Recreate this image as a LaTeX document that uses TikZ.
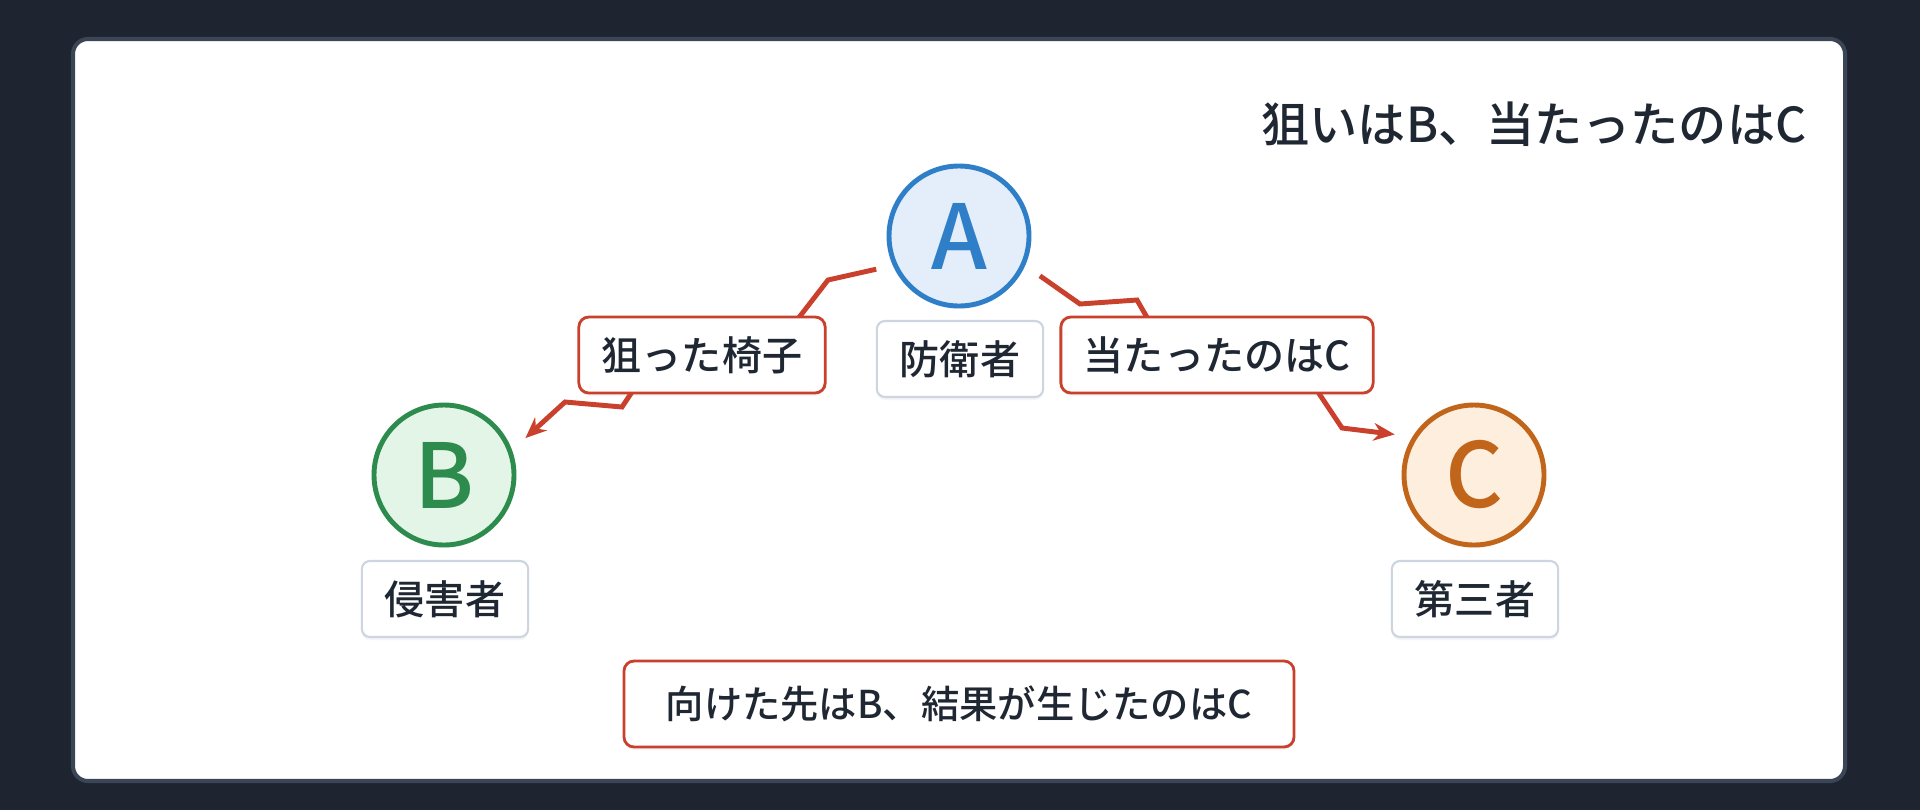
\documentclass[tikz,border=0pt]{standalone}
\usepackage{fontspec}
\setmainfont{Noto Sans CJK JP Medium}
\newfontfamily\letterfont{Noto Sans CJK JP Medium}
\usetikzlibrary{arrows.meta,shadows}
\definecolor{bgdark}{HTML}{1E2530}
\definecolor{cardline}{HTML}{3A4556}
\definecolor{ink}{HTML}{1F2733}
\definecolor{redline}{HTML}{C9402C}
\definecolor{grayline}{HTML}{CDD5E0}
\definecolor{blueA}{HTML}{2F7FC8}
\definecolor{blueAfill}{HTML}{E3EEFA}
\definecolor{greenB}{HTML}{2E8B4E}
\definecolor{greenBfill}{HTML}{E3F5E6}
\definecolor{orangeC}{HTML}{C0651A}
\definecolor{orangeCfill}{HTML}{FDEEDD}
\begin{document}
\begin{tikzpicture}[>={Stealth[length=6pt,width=5pt]},x=1cm,y=1cm,
		person/.style={circle,minimum size=1.40cm,inner sep=0pt,line width=1.4pt,font=\fontsize{25.5}{26}\letterfont,drop shadow={opacity=0.08,shadow xshift=0cm,shadow yshift=-0.03cm}},
		role/.style={draw=grayline,line width=0.6pt,fill=white,rounded corners=0.08cm,minimum height=0.76cm,inner xsep=0.23cm,text=ink,font=\fontsize{11.4}{13}\selectfont,drop shadow={opacity=0.08,shadow xshift=0cm,shadow yshift=-0.03cm}},
		redbox/.style={role,draw=redline,line width=0.8pt,rounded corners=0.1cm},
		hit/.style={->,redline,line width=1.4pt}]
			\useasboundingbox (0,0) rectangle (19.2,8.1);
			\fill[bgdark] (0,0) rectangle (19.2,8.1);
			\draw[cardline,line width=1.15pt,fill=white,rounded corners=0.15cm] (0.73,0.29) rectangle (18.45,7.71);
			\node[anchor=east,inner sep=0pt,text=ink,font=\fontsize{13.7}{16}\selectfont] (title) at (18.07,6.86) {狙いはB、当たったのはC};
			% ba người
			\node[person,draw=blueA,fill=blueAfill,text=blueA] (A) at (9.59,5.74) {A};
			\node[person,draw=greenB,fill=greenBfill,text=greenB] (B) at (4.44,3.35) {B};
			\node[person,draw=orangeC,fill=orangeCfill,text=orangeC] (C) at (14.74,3.35) {C};
			\draw[hit,shorten <=0.17cm,shorten >=0.18cm] (A.204) -- (8.28,5.30) -- (7.80,4.68) -- (6.40,4.30) -- (6.22,4.03) -- (5.65,4.08) -- (B.20);
			\draw[hit,shorten <=0.18cm,shorten >=0.18cm] (A.-24) -- (10.80,5.06) -- (11.37,5.10) -- (11.60,4.70) -- (13.00,4.45) -- (13.42,3.82) -- (C.148);
			\node[role] (def) at (9.60,4.51) {防衛者};
			\node[role] (agg) at (4.45,2.11) {侵害者};
			\node[role] (third) at (14.75,2.11) {第三者};
			\node[redbox] (aim) at (7.02,4.55) {狙った椅子};
			\node[redbox] (hitC) at (12.17,4.55) {当たったのはC};
			\node[redbox,minimum height=0.86cm,minimum width=6.70cm,font=\fontsize{10.9}{13}\selectfont] (sum) at (9.59,1.06) {向けた先はB、結果が生じたのはC};
		\end{tikzpicture}
\end{document}
